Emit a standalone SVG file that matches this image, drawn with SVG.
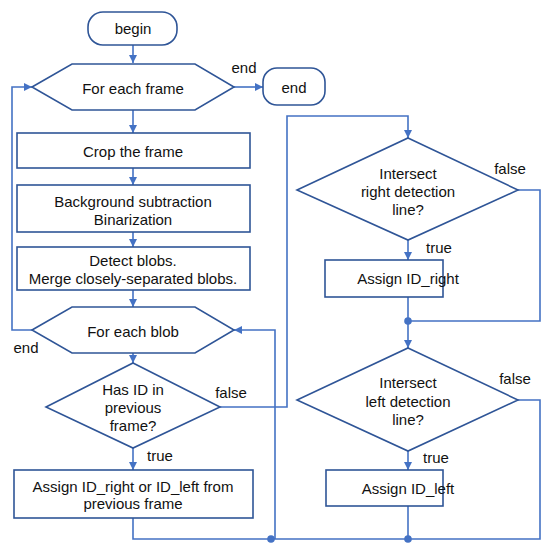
<svg xmlns="http://www.w3.org/2000/svg" width="550" height="547" viewBox="0 0 550 547">
<defs>
<marker id="arr" viewBox="0 0 10 10" refX="10" refY="5" markerWidth="8" markerHeight="8" markerUnits="userSpaceOnUse" orient="auto">
<path d="M0,0 L10,5 L0,10 z" fill="#4472C4"/>
</marker>
</defs>
<style>
.s{fill:#fff;stroke:#2F5597;stroke-width:1.6}
.c{fill:none;stroke:#4472C4;stroke-width:1.6}
.t{font-family:"Liberation Sans",Arial,sans-serif;font-size:15px;fill:#111;text-anchor:middle;dominant-baseline:central}
.d{fill:#4472C4}
</style>
<rect width="550" height="547" fill="#fff"/>
<g id="connectors">
<path class="c" d="M133,45 V63" marker-end="url(#arr)"/>
<path class="c" d="M234,87 H263" marker-end="url(#arr)"/>
<path class="c" d="M133,110 V133" marker-end="url(#arr)"/>
<path class="c" d="M133,168 V185" marker-end="url(#arr)"/>
<path class="c" d="M133,232 V247" marker-end="url(#arr)"/>
<path class="c" d="M133,290 V307" marker-end="url(#arr)"/>
<path class="c" d="M32,330 H12 V87 H32" marker-end="url(#arr)"/>
<path class="c" d="M133,353 V363" marker-end="url(#arr)"/>
<path class="c" d="M133,448 V470" marker-end="url(#arr)"/>
<path class="c" d="M220,407 H287 V116 H408 V138" marker-end="url(#arr)"/>
<path class="c" d="M408,240 V260" marker-end="url(#arr)"/>
<path class="c" d="M518,190 H540 V321 H408"/>
<path class="c" d="M408,297 V348" marker-end="url(#arr)"/>
<path class="c" d="M408,451 V470" marker-end="url(#arr)"/>
<path class="c" d="M518,400 H540 V539 H133 V518"/>
<path class="c" d="M408,506 V539"/>
<path class="c" d="M275,539 V330 H234" marker-end="url(#arr)"/>
<circle class="d" cx="408" cy="321" r="3.8"/>
<circle class="d" cx="408" cy="539" r="3.8"/>
<circle class="d" cx="271" cy="539" r="3.8"/>
</g>
<g id="n-begin">
<rect class="s" x="88" y="12" width="89" height="33" rx="15"/>
<text class="t" x="133" y="28">begin</text>
</g>
<g id="n-frame">
<polygon class="s" points="32,87 72,64 195,64 234,87 195,110 72,110"/>
<text class="t" x="133" y="88">For each frame</text>
<text class="t" x="244" y="67">end</text>
</g>
<g id="n-end">
<rect class="s" x="263" y="68" width="62" height="37" rx="14"/>
<text class="t" x="294" y="87">end</text>
</g>
<g id="n-crop">
<rect class="s" x="17" y="133" width="233" height="35"/>
<text class="t" x="133" y="151">Crop the frame</text>
</g>
<g id="n-bg">
<rect class="s" x="17" y="185" width="233" height="47"/>
<text class="t" x="133" y="201">Background subtraction</text>
<text class="t" x="133" y="219">Binarization</text>
</g>
<g id="n-detect">
<rect class="s" x="17" y="247" width="233" height="43"/>
<text class="t" x="133" y="260">Detect blobs.</text>
<text class="t" x="133" y="278">Merge closely-separated blobs.</text>
</g>
<g id="n-blob">
<polygon class="s" points="32,330 72,307 195,307 234,330 195,353 72,353"/>
<text class="t" x="133" y="331">For each blob</text>
<text class="t" x="26" y="347">end</text>
</g>
<g id="n-hasid">
<polygon class="s" points="133,363 220,407 133,448 46,407"/>
<text class="t" x="133" y="389">Has ID in</text>
<text class="t" x="133" y="407">previous</text>
<text class="t" x="133" y="425">frame?</text>
<text class="t" x="231" y="392">false</text>
<text class="t" x="160" y="455">true</text>
</g>
<g id="n-assign">
<rect class="s" x="14" y="470" width="239" height="48"/>
<text class="t" x="133" y="486">Assign ID_right or ID_left from</text>
<text class="t" x="133" y="503">previous frame</text>
</g>
<g id="n-right">
<polygon class="s" points="408,138 518,190 408,240 297,190"/>
<text class="t" x="408" y="173">Intersect</text>
<text class="t" x="408" y="191">right detection</text>
<text class="t" x="408" y="209">line?</text>
<text class="t" x="510" y="168">false</text>
<text class="t" x="439" y="247">true</text>
</g>
<g id="n-assignright">
<rect class="s" x="325" y="260" width="118" height="37"/>
<text class="t" x="408" y="278">Assign ID_right</text>
</g>
<g id="n-left">
<polygon class="s" points="408,348 518,400 408,451 297,400"/>
<text class="t" x="408" y="382">Intersect</text>
<text class="t" x="408" y="401">left detection</text>
<text class="t" x="408" y="419">line?</text>
<text class="t" x="515" y="378">false</text>
<text class="t" x="436" y="457">true</text>
</g>
<g id="n-assignleft">
<rect class="s" x="326" y="470" width="117" height="36"/>
<text class="t" x="408" y="488">Assign ID_left</text>
</g>
</svg>
